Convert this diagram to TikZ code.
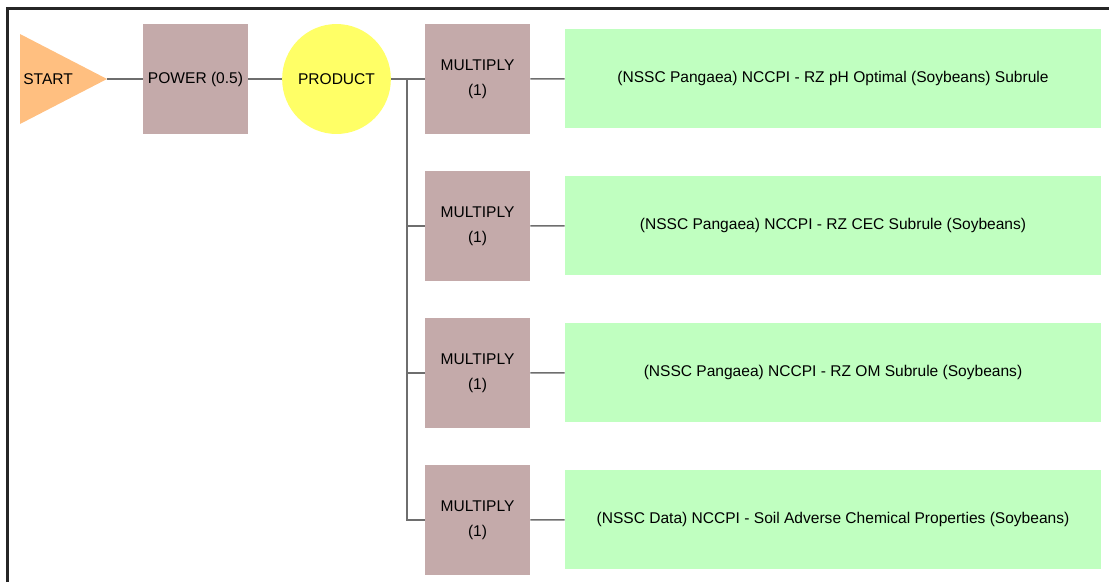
\documentclass[tikz,border=0pt]{standalone}
\usepackage{fontspec}
\setmainfont{Liberation Sans}
\usetikzlibrary{shapes.geometric}
\definecolor{fnpink}{HTML}{C4AAAA}
\definecolor{prodyellow}{HTML}{FFFF66}
\definecolor{startorange}{HTML}{FFBF80}
\definecolor{rulegreen}{HTML}{C0FFC0}
\definecolor{linkgray}{HTML}{6E6E6E}

\begin{document}
\begin{tikzpicture}[x=0.02cm,y=-0.02cm,font=\fontsize{8.85}{14.4}\selectfont,
    fn/.style={fill=fnpink,minimum width=2.1cm,minimum height=2.2cm,align=center,inner sep=0pt},
    rule/.style={fill=rulegreen,minimum width=10.72cm,minimum height=1.98cm,inner sep=0pt},
    link/.style={draw=linkgray,line width=0.8pt}]
    \useasboundingbox (0,0) rectangle (1109,582);
    \draw[line width=1.4pt,black!85] (7.5,582) -- (7.5,8.5) -- (1109,8.5);
    \fill[startorange] (20,34) -- (107,79) -- (20,124) -- cycle;
    \node[anchor=west,inner sep=0pt] (start) at (23,79) {START};
    \coordinate (tip) at (107,79);
    \node[fn] (power) at (195.5,79) {POWER (0.5)};
    \node[ellipse,fill=prodyellow,minimum width=2.1cm,minimum height=2.2cm,inner sep=0pt] (product) at (336.5,79) {PRODUCT};
    \coordinate (branch) at (407,79);
    \node[fn] (mul1) at (477.5,79) {MULTIPLY\\(1)};
    \node[fn] (mul2) at (477.5,226) {MULTIPLY\\(1)};
    \node[fn] (mul3) at (477.5,373) {MULTIPLY\\(1)};
    \node[fn] (mul4) at (477.5,520) {MULTIPLY\\(1)};
    \node[rule] (sub1) at (833,78.5) {(NSSC Pangaea) NCCPI - RZ pH Optimal (Soybeans) Subrule};
    \node[rule] (sub2) at (833,225.5) {(NSSC Pangaea) NCCPI - RZ CEC Subrule (Soybeans)};
    \node[rule] (sub3) at (833,372.5) {(NSSC Pangaea) NCCPI - RZ OM Subrule (Soybeans)};
    \node[rule] (sub4) at (833,519.5) {(NSSC Data) NCCPI - Soil Adverse Chemical Properties (Soybeans)};
    \draw[link] (tip) -- (power) -- (product) -- (branch) -- (mul1);
    \draw[link] (branch) |- (mul2);
    \draw[link] (branch) |- (mul3);
    \draw[link] (branch) |- (mul4);
    \draw[link] (mul1) -- (sub1);
    \draw[link] (mul2) -- (sub2);
    \draw[link] (mul3) -- (sub3);
    \draw[link] (mul4) -- (sub4);
\end{tikzpicture}
\end{document}
